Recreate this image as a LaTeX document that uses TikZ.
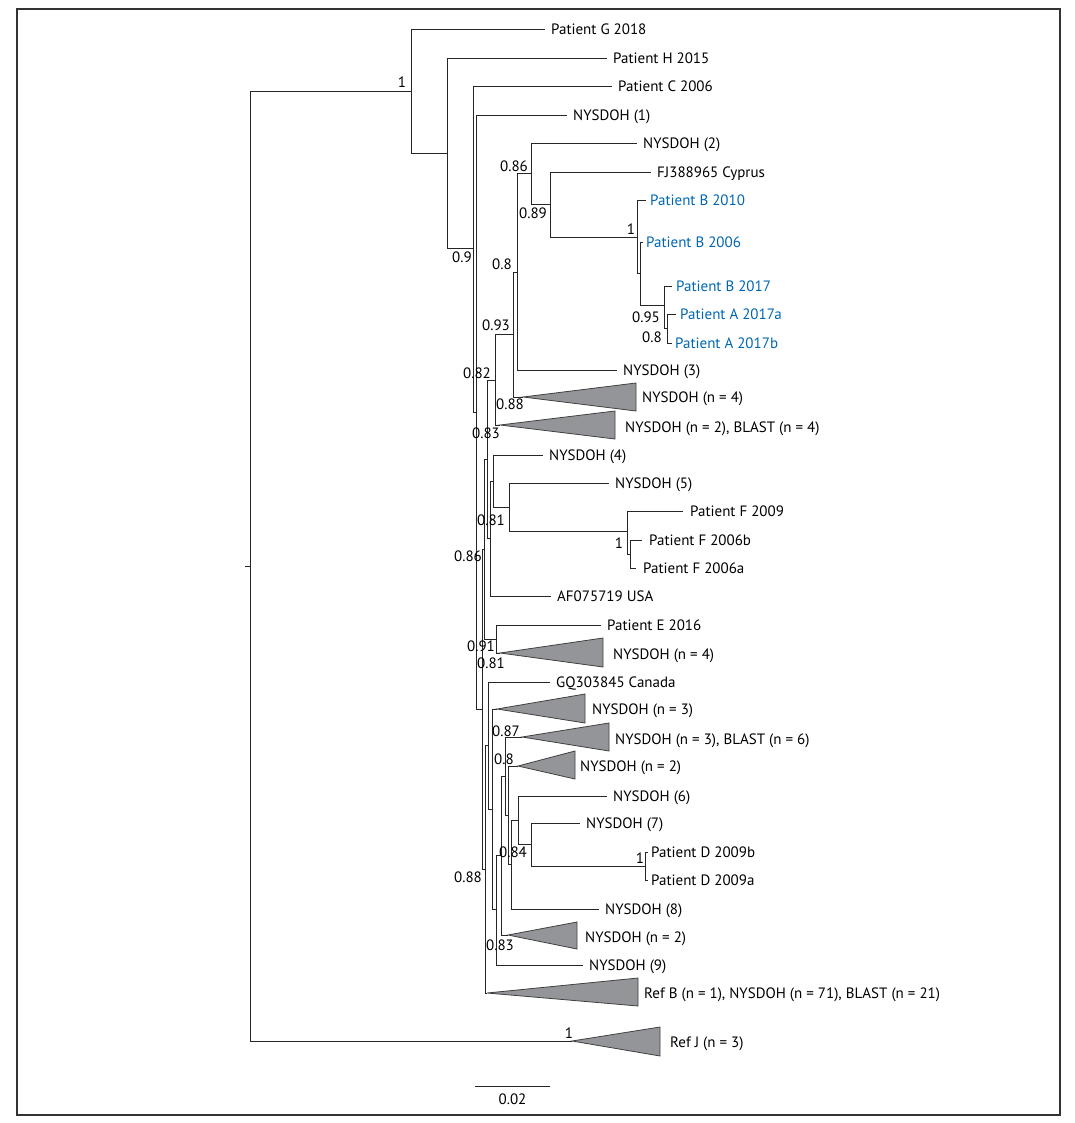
\documentclass[tikz,border=0pt]{standalone}
\usepackage{fontspec}
\setmainfont{PT Sans}
\usetikzlibrary{positioning}
\definecolor{cdcblue}{RGB}{0,102,178}
\definecolor{cladegray}{RGB}{147,149,152}

\begin{document}
\begin{tikzpicture}[x=1pt, y=-1pt,
  branch/.style={draw=black!85, line width=0.8pt},
  clade/.style={draw=black!75, fill=cladegray, line width=0.8pt, line join=miter},
  leaf/.style={anchor=west, inner xsep=6pt, inner ysep=0pt,
    text height=10.5pt, text depth=0pt, font=\fontsize{15}{18}\selectfont},
  patient/.style={leaf, text=cdcblue, inner xsep=4pt},
  support/.style={inner sep=0pt, text height=10.5pt, text depth=0pt,
    font=\fontsize{15}{18}\selectfont}]

  \useasboundingbox (0,0) rectangle (1074,1123);
  \draw[black!80, line width=2pt] (17,9) rectangle (1060,1115);

  % internal nodes of the tree
  \coordinate (root) at (250,566);
  \coordinate (rootstub) at (245,566);
  \coordinate (top) at (411,91);
  \coordinate (hcl) at (447,153);
  \coordinate (ccl) at (473,248);
  \coordinate (spine) at (476,412);
  \coordinate (nA) at (482,709);
  \coordinate (nD) at (484,549);
  \coordinate (nup) at (487,459);
  \coordinate (n82) at (495,380);
  \coordinate (n93) at (513,334);
  \coordinate (n80) at (517,272);
  \coordinate (n86) at (531,173);
  \coordinate (n89) at (550,204);
  \coordinate (pb) at (637,237);
  \coordinate (pb06) at (640,273);
  \coordinate (n95) at (664,305);
  \coordinate (pa) at (667,328);
  \coordinate (naf) at (490,538);
  \coordinate (nny4) at (493,481);
  \coordinate (n81) at (509,507);
  \coordinate (pf) at (627,531);
  \coordinate (pf06) at (630,554);
  \coordinate (pe) at (496,639);
  \coordinate (nB) at (485,869);
  \coordinate (ngq) at (488,745);
  \coordinate (nH) at (492,809);
  \coordinate (nI) at (496,909);
  \coordinate (nJ) at (501,855);
  \coordinate (n87) at (505,776);
  \coordinate (nL) at (508,815);
  \coordinate (nM) at (511,864);
  \coordinate (nN) at (518,820);
  \coordinate (n84) at (531,844);
  \coordinate (pd) at (645,866);

  % leaves
  \node[leaf] (lG) at (545,29) {Patient G 2018};
  \node[leaf] (lH) at (607,58) {Patient H 2015};
  \node[leaf] (lC) at (612,86) {Patient C 2006};
  \node[leaf] (lny1) at (567,115) {NYSDOH (1)};
  \node[leaf] (lny2) at (637,143) {NYSDOH (2)};
  \node[leaf] (lcyp) at (651,172) {FJ388965 Cyprus};
  \node[patient] (lb10) at (646,200) {Patient B 2010};
  \node[patient, inner xsep=3pt] (lb06) at (643,242) {Patient B 2006};
  \node[patient] (lb17) at (672,286) {Patient B 2017};
  \node[patient] (la17a) at (676,314) {Patient A 2017a};
  \node[patient, inner xsep=3pt] (la17b) at (672,343) {Patient A 2017b};
  \node[leaf] (lny3) at (617,370) {NYSDOH (3)};
  \node[leaf] (lny4) at (543,455) {NYSDOH (4)};
  \node[leaf] (lny5) at (609,483) {NYSDOH (5)};
  \node[leaf, inner xsep=7pt] (lf09) at (683,511) {Patient F 2009};
  \node[leaf, inner xsep=7pt] (lf06b) at (642,540) {Patient F 2006b};
  \node[leaf, inner xsep=7pt] (lf06a) at (636,568) {Patient F 2006a};
  \node[leaf] (laf) at (551,596) {AF075719 USA};
  \node[leaf] (le16) at (601,625) {Patient E 2016};
  \node[leaf] (lgq) at (550,682) {GQ303845 Canada};
  \node[leaf] (lny6) at (607,796) {NYSDOH (6)};
  \node[leaf] (lny7) at (580,823) {NYSDOH (7)};
  \node[leaf, inner xsep=3pt] (ld09b) at (648,852) {Patient D 2009b};
  \node[leaf, inner xsep=3pt] (ld09a) at (648,880) {Patient D 2009a};
  \node[leaf] (lny8) at (599,909) {NYSDOH (8)};
  \node[leaf] (lny9) at (583,965) {NYSDOH (9)};

  % collapsed clades
  \coordinate (tny4) at (523,397);
  \draw[clade] (tny4) -- (636,383) -- (636,411) -- cycle;
  \node[leaf] (ltny4) at (636,397) {NYSDOH (n = 4)};
  \coordinate (tblast4) at (500,425);
  \draw[clade] (tblast4) -- (615,411) -- (615,439) -- cycle;
  \node[leaf] (ltblast4) at (619,427) {NYSDOH (n = 2), BLAST (n = 4)};
  \coordinate (te4) at (500,653);
  \draw[clade] (te4) -- (603,638) -- (603,667) -- cycle;
  \node[leaf] (lte4) at (607,654) {NYSDOH (n = 4)};
  \coordinate (tny3) at (497,709);
  \draw[clade] (tny3) -- (585,694) -- (585,723) -- cycle;
  \node[leaf] (ltny3) at (586,709) {NYSDOH (n = 3)};
  \coordinate (tblast6) at (522,737);
  \draw[clade] (tblast6) -- (609,723) -- (609,751) -- cycle;
  \node[leaf] (ltblast6) at (609,739) {NYSDOH (n = 3), BLAST (n = 6)};
  \coordinate (tny2a) at (518,766);
  \draw[clade] (tny2a) -- (575,751) -- (575,779) -- cycle;
  \node[leaf] (ltny2a) at (574,766) {NYSDOH (n = 2)};
  \coordinate (tny2b) at (508,935);
  \draw[clade] (tny2b) -- (577,922) -- (577,949) -- cycle;
  \node[leaf] (ltny2b) at (579,937) {NYSDOH (n = 2)};
  \coordinate (trefb) at (487,993);
  \draw[clade] (trefb) -- (638,978) -- (638,1006) -- cycle;
  \node[leaf] (ltrefb) at (638,993) {Ref B (n = 1), NYSDOH (n = 71), BLAST (n = 21)};
  \coordinate (trefj) at (572,1041);
  \draw[clade] (trefj) -- (660,1027) -- (660,1056) -- cycle;
  \node[leaf] (ltrefj) at (664,1042) {Ref J (n = 3)};

  % branches
  \draw[branch] (rootstub) -- (root);
  \draw[branch] (root) |- (top);
  \draw[branch] (root) |- (trefj);
  \draw[branch] (top) |- (lG);
  \draw[branch] (top) |- (hcl);
  \draw[branch] (hcl) |- (lH);
  \draw[branch] (hcl) |- (ccl);
  \draw[branch] (ccl) |- (lC);
  \draw[branch] (ccl) |- (spine);
  \draw[branch] (spine) |- (lny1);
  \draw[branch] (spine) |- (nA);
  \draw[branch] (nA) |- (nD);
  \draw[branch] (nA) |- (nB);
  \draw[branch] (nD) |- (nup);
  \draw[branch] (nD) |- (pe);
  \draw[branch] (nup) |- (n82);
  \draw[branch] (nup) |- (naf);
  \draw[branch] (n82) |- (n93);
  \draw[branch] (n82) |- (tblast4);
  \draw[branch] (n93) |- (n80);
  \draw[branch] (n93) |- (tny4);
  \draw[branch] (n80) |- (n86);
  \draw[branch] (n80) |- (lny3);
  \draw[branch] (n86) |- (lny2);
  \draw[branch] (n86) |- (n89);
  \draw[branch] (n89) |- (lcyp);
  \draw[branch] (n89) |- (pb);
  \draw[branch] (pb) |- (lb10);
  \draw[branch] (pb) |- (pb06);
  \draw[branch] (pb06) |- (lb06);
  \draw[branch] (pb06) |- (n95);
  \draw[branch] (n95) |- (lb17);
  \draw[branch] (n95) |- (pa);
  \draw[branch] (pa) |- (la17a);
  \draw[branch] (pa) |- (la17b);
  \draw[branch] (naf) |- (nny4);
  \draw[branch] (naf) |- (laf);
  \draw[branch] (nny4) |- (lny4);
  \draw[branch] (nny4) |- (n81);
  \draw[branch] (n81) |- (lny5);
  \draw[branch] (n81) |- (pf);
  \draw[branch] (pf) |- (lf09);
  \draw[branch] (pf) |- (pf06);
  \draw[branch] (pf06) |- (lf06b);
  \draw[branch] (pf06) |- (lf06a);
  \draw[branch] (pe) |- (le16);
  \draw[branch] (pe) |- (te4);
  \draw[branch] (nB) |- (ngq);
  \draw[branch] (nB) |- (trefb);
  \draw[branch] (ngq) |- (lgq);
  \draw[branch] (ngq) |- (nH);
  \draw[branch] (nH) |- (tny3);
  \draw[branch] (nH) |- (nI);
  \draw[branch] (nI) |- (nJ);
  \draw[branch] (nI) |- (lny9);
  \draw[branch] (nJ) |- (n87);
  \draw[branch] (nJ) |- (tny2b);
  \draw[branch] (n87) |- (tblast6);
  \draw[branch] (n87) |- (nL);
  \draw[branch] (nL) |- (tny2a);
  \draw[branch] (nL) |- (nM);
  \draw[branch] (nM) |- (nN);
  \draw[branch] (nM) |- (lny8);
  \draw[branch] (nN) |- (lny6);
  \draw[branch] (nN) |- (n84);
  \draw[branch] (n84) |- (lny7);
  \draw[branch] (n84) |- (pd);
  \draw[branch] (pd) |- (ld09b);
  \draw[branch] (pd) |- (ld09a);

  % support values
  \node[support] (s1) at (402,82) {1};
  \node[support] (s2) at (462,257) {0.9};
  \node[support] (s3) at (514,166) {0.86};
  \node[support] (s4) at (533,213) {0.89};
  \node[support] (s5) at (631,229) {1};
  \node[support] (s6) at (502,264) {0.8};
  \node[support] (s7) at (646,317) {0.95};
  \node[support] (s8) at (652,337) {0.8};
  \node[support] (s9) at (496,325) {0.93};
  \node[support] (s10) at (477,373) {0.82};
  \node[support] (s11) at (510,404) {0.88};
  \node[support] (s12) at (486,433) {0.83};
  \node[support] (s13) at (491,520) {0.81};
  \node[support] (s14) at (619,543) {1};
  \node[support] (s15) at (468,556) {0.86};
  \node[support] (s16) at (481,646) {0.91};
  \node[support] (s17) at (491,663) {0.81};
  \node[support] (s18) at (506,731) {0.87};
  \node[support] (s19) at (504,759) {0.8};
  \node[support] (s20) at (513,852) {0.84};
  \node[support] (s21) at (468,877) {0.88};
  \node[support] (s22) at (500,945) {0.83};
  \node[support] (s23) at (569,1033) {1};
  \node[support] (s24) at (640,858) {1};

  % scale bar
  \coordinate (sbL) at (475,1086);
  \coordinate (sbR) at (550,1086);
  \draw[branch] (sbL) -- coordinate (sbM) (sbR);
  \node[support, below=8pt of sbM] (sbT) {0.02};
\end{tikzpicture}
\end{document}
